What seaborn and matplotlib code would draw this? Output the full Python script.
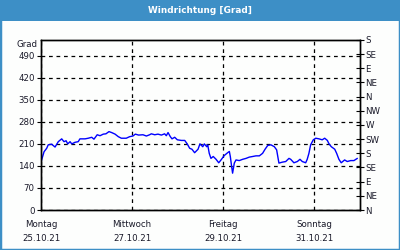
import numpy as np
import pandas as pd
import matplotlib
matplotlib.use("Agg")
import matplotlib.pyplot as plt
import matplotlib.dates as mdates
from matplotlib.patches import Rectangle
import seaborn as sns

# ---- data (hours since 25.10.21 00:00, wind direction in degrees) ----
hours = [0, 1.6, 3.0, 3.8, 5.6, 7.4, 9.1, 10.9, 12.1, 13.2, 14.1, 15.3, 16.2, 17.9,
         19.6, 20.5, 23.2, 24.9, 26.7, 27.9, 29.6, 31.1, 32.8, 34.2, 35.8, 37.2,
         39.0, 40.7, 42.3, 44.9, 46.7, 48.4, 49.7, 51.4, 53.7, 55.5, 57.2, 58.1,
         59.9, 61.6, 63.4, 65.1, 66.0, 66.9, 68.1, 69.0, 70.4, 71.8, 73.9, 75.7,
         77.0, 78.3, 79.5, 80.9, 82.7, 83.7, 85.2, 86.0, 87.3, 87.8, 88.6, 89.5,
         90.7, 92.2, 93.6, 94.8, 96.5, 98.3, 99.2, 99.7, 100.4, 100.9, 101.8,
         102.7, 104.4, 106.2, 108.0, 109.7, 111.5, 113.2, 115.0, 116.7, 118.0,
         119.4, 121.1, 122.9, 124.1, 125.3, 127.1, 128.9, 130.6, 131.5, 133.2,
         135.0, 136.4, 137.6, 139.4, 140.2, 141.1, 142.0, 143.4, 144.7, 146.4,
         148.1, 149.4, 150.8, 151.7, 152.9, 154.7, 155.7, 156.9, 158.1, 159.9,
         161.3, 163.1, 164.8, 166.6]
degrees = [152, 185, 196, 207, 209, 200, 217, 226, 217, 220, 210, 217, 210, 215,
           217, 226, 226, 228, 231, 225, 239, 236, 241, 242, 249, 246,
           241, 233, 228, 228, 233, 235, 241, 238, 239, 235, 239, 242,
           239, 241, 238, 242, 236, 246, 233, 226, 231, 223, 221, 221,
           210, 196, 193, 182, 193, 210, 201, 210, 201, 207, 180, 164,
           170, 161, 150, 159, 173, 182, 186, 170, 138, 117, 149,
           159, 157, 161, 164, 168, 170, 172, 172, 180, 193,
           205, 207, 201, 191, 149, 152, 154, 164, 161, 150,
           154, 161, 154, 150, 161, 180, 207, 223, 228, 226,
           223, 228, 221, 210, 201, 193, 180, 161, 150, 159,
           154, 157, 157, 164]

tick_days = ["Montag", "Mittwoch", "Freitag", "Sonntag"]
tick_dates = ["25.10.21", "27.10.21", "29.10.21", "31.10.21"]
left_ticks = [0, 70, 140, 210, 280, 350, 420, 490]
right_ticks = [0, 45, 90, 135, 180, 225, 270, 315, 360, 405, 450, 495, 540]
right_labels = ["N", "NE", "E", "SE", "S", "SW", "W", "NW", "N", "NE", "E", "SE", "S"]
title = "Windrichtung [Grad]"
unit_label = "Grad"

sns.set_style("white")
plt.rcParams["font.family"] = ["DejaVu Sans"]

start = pd.Timestamp("2021-10-25")
df = pd.DataFrame({"time": start + pd.to_timedelta(hours, unit="h"), "deg": degrees})

W, H = 400, 250
blue = "#3d8fc6"
txt = "#1a1a2a"
fs = 6.2

fig = plt.figure(figsize=(W / 100, H / 100), dpi=100)
fig.patch.set_facecolor("#fdfefd")
fig.add_artist(Rectangle((0, 1 - 21 / H), 1, 21 / H, transform=fig.transFigure,
                         facecolor=blue, edgecolor="none"))
fig.add_artist(Rectangle((0, 0), 1, 1, transform=fig.transFigure, fill=False,
                         edgecolor=blue, linewidth=2.5))
fig.text(0.5, 1 - 10.5 / H, title, color="white", fontweight="bold", fontsize=6.4,
         ha="center", va="center")

ax = fig.add_axes([41 / W, (H - 210) / H, 319 / W, 170 / H])
ax.set_facecolor("none")
sns.lineplot(data=df, x="time", y="deg", ax=ax, color="#0000ff", linewidth=1)

ax.set_xlim(start, start + pd.Timedelta(days=7))
ax.set_ylim(0, 540)
ax.set_xlabel("")
ax.set_ylabel("")

major = [start + pd.Timedelta(days=2 * i) for i in range(len(tick_days))]
ax.set_xticks(major)
ax.set_xticklabels([f"{d}\n{t}" for d, t in zip(tick_days, tick_dates)],
                   fontsize=fs, color=txt, linespacing=1.8)
ax.xaxis.set_minor_locator(mdates.DayLocator())
ax.tick_params(axis="x", which="major", length=0, pad=7)
ax.tick_params(axis="x", which="minor", length=3, direction="out", color="black")

ax.set_yticks(left_ticks)
ax.set_yticklabels([str(v) for v in left_ticks], fontsize=fs, color=txt)
ax.tick_params(axis="y", length=3, direction="out", color="black", pad=1.5)

ax.grid(True, which="major", color="black", linestyle=(0, (3, 3)), linewidth=0.9)
for s in ax.spines.values():
    s.set_color("black")
    s.set_linewidth(1)

ax.text(-0.012, 525, unit_label, transform=ax.get_yaxis_transform(),
        ha="right", va="center", fontsize=fs, color=txt)

ax2 = ax.twinx()
ax2.set_ylim(0, 540)
ax2.set_yticks(right_ticks)
ax2.set_yticklabels(right_labels, fontsize=fs, color=txt)
ax2.tick_params(axis="y", length=6, direction="inout", color="black", pad=1)
ax2.grid(False)
for s in ax2.spines.values():
    s.set_color("black")
    s.set_linewidth(1)

fig.savefig("out.png", dpi=100, facecolor=fig.get_facecolor())
